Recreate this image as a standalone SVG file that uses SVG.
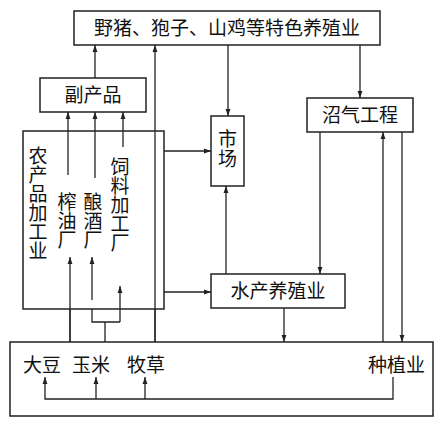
<svg xmlns="http://www.w3.org/2000/svg" width="442" height="423" viewBox="0 0 442 423">
<style>
.box{fill:#fff;stroke:#222;stroke-width:1.5}
.t{font-family:"Liberation Serif","Noto Sans CJK SC",serif;font-size:19px;fill:#111}
.c{fill:none;stroke:#222;stroke-width:1.3}
</style>
<defs>
<marker id="a" viewBox="0 0 10 10" refX="10" refY="5" markerWidth="7" markerHeight="7" markerUnits="userSpaceOnUse" orient="auto">
<path d="M0,1.5 L10,5 L0,8.5 Z" fill="#222"/>
</marker>
</defs>
<rect width="442" height="423" fill="#fff"/>
<g id="bottom"><rect class="box" x="10" y="342" width="423" height="74"/>
<text class="t" x="23" y="372">大豆</text>
<text class="t" x="72" y="372">玉米</text>
<text class="t" x="127" y="372">牧草</text>
<text class="t" x="368" y="372">种植业</text></g>
<g id="top"><rect class="box" x="74" y="11" width="306" height="34"/>
<text class="t" x="227" y="35" text-anchor="middle" font-size="19.5">野猪、狍子、山鸡等特色养殖业</text></g>
<g id="fuchanpin"><rect class="box" x="40" y="78" width="106" height="34"/>
<text class="t" x="93" y="102" text-anchor="middle">副产品</text></g>
<g id="jiagong"><rect class="box" x="23" y="131" width="141" height="178"/>
<text class="t" x="38" y="163" text-anchor="middle">农</text>
<text class="t" x="38" y="182" text-anchor="middle">产</text>
<text class="t" x="38" y="201" text-anchor="middle">品</text>
<text class="t" x="38" y="220" text-anchor="middle">加</text>
<text class="t" x="38" y="239" text-anchor="middle">工</text>
<text class="t" x="38" y="258" text-anchor="middle">业</text>
<text class="t" x="67" y="209" text-anchor="middle">榨</text>
<text class="t" x="67" y="228" text-anchor="middle">油</text>
<text class="t" x="67" y="247" text-anchor="middle">厂</text>
<text class="t" x="93" y="209" text-anchor="middle">酿</text>
<text class="t" x="93" y="228" text-anchor="middle">酒</text>
<text class="t" x="93" y="247" text-anchor="middle">厂</text>
<text class="t" x="120" y="174" text-anchor="middle">饲</text>
<text class="t" x="120" y="193" text-anchor="middle">料</text>
<text class="t" x="120" y="212" text-anchor="middle">加</text>
<text class="t" x="120" y="231" text-anchor="middle">工</text>
<text class="t" x="120" y="250" text-anchor="middle">厂</text></g>
<g id="shichang"><rect class="box" x="211" y="116" width="33" height="70"/>
<text class="t" x="227.5" y="146" text-anchor="middle">市</text>
<text class="t" x="227.5" y="166" text-anchor="middle">场</text></g>
<g id="shuichan"><rect class="box" x="211" y="274" width="134" height="34"/>
<text class="t" x="278" y="298" text-anchor="middle">水产养殖业</text></g>
<g id="zhaoqi"><rect class="box" x="307" y="98" width="106" height="34"/>
<text class="t" x="360" y="122" text-anchor="middle">沼气工程</text></g>
<g id="connectors">
<path class="c" d="M95,78 V45" marker-end="url(#a)"/>
<path class="c" d="M155,342 V45" marker-end="url(#a)"/>
<path class="c" d="M68,175 V112" marker-end="url(#a)"/>
<path class="c" d="M95,178 V112" marker-end="url(#a)"/>
<path class="c" d="M123,147 V112" marker-end="url(#a)"/>
<path class="c" d="M70,342 V257" marker-end="url(#a)"/>
<path class="c" d="M92,300 V257" marker-end="url(#a)"/>
<path class="c" d="M120,322 V286" marker-end="url(#a)"/>
<path class="c" d="M70,309 V342"/>
<path class="c" d="M92,309 V322 H120"/>
<path class="c" d="M105,322 V342"/>
<path class="c" d="M155,309 V342"/>
<path class="c" d="M164,151 H211" marker-end="url(#a)"/>
<path class="c" d="M164,292 H211" marker-end="url(#a)"/>
<path class="c" d="M228,45 V116" marker-end="url(#a)"/>
<path class="c" d="M226,274 V186" marker-end="url(#a)"/>
<path class="c" d="M284,308 V342" marker-end="url(#a)"/>
<path class="c" d="M360,45 V98" marker-end="url(#a)"/>
<path class="c" d="M320,132 V274" marker-end="url(#a)"/>
<path class="c" d="M383,342 V132" marker-end="url(#a)"/>
<path class="c" d="M402,132 V342" marker-end="url(#a)"/>
<path class="c" d="M393,377 V399 H45 V377" marker-end="url(#a)"/>
<path class="c" d="M96,399 V377" marker-end="url(#a)"/>
<path class="c" d="M145,399 V377" marker-end="url(#a)"/>
</g>
</svg>
